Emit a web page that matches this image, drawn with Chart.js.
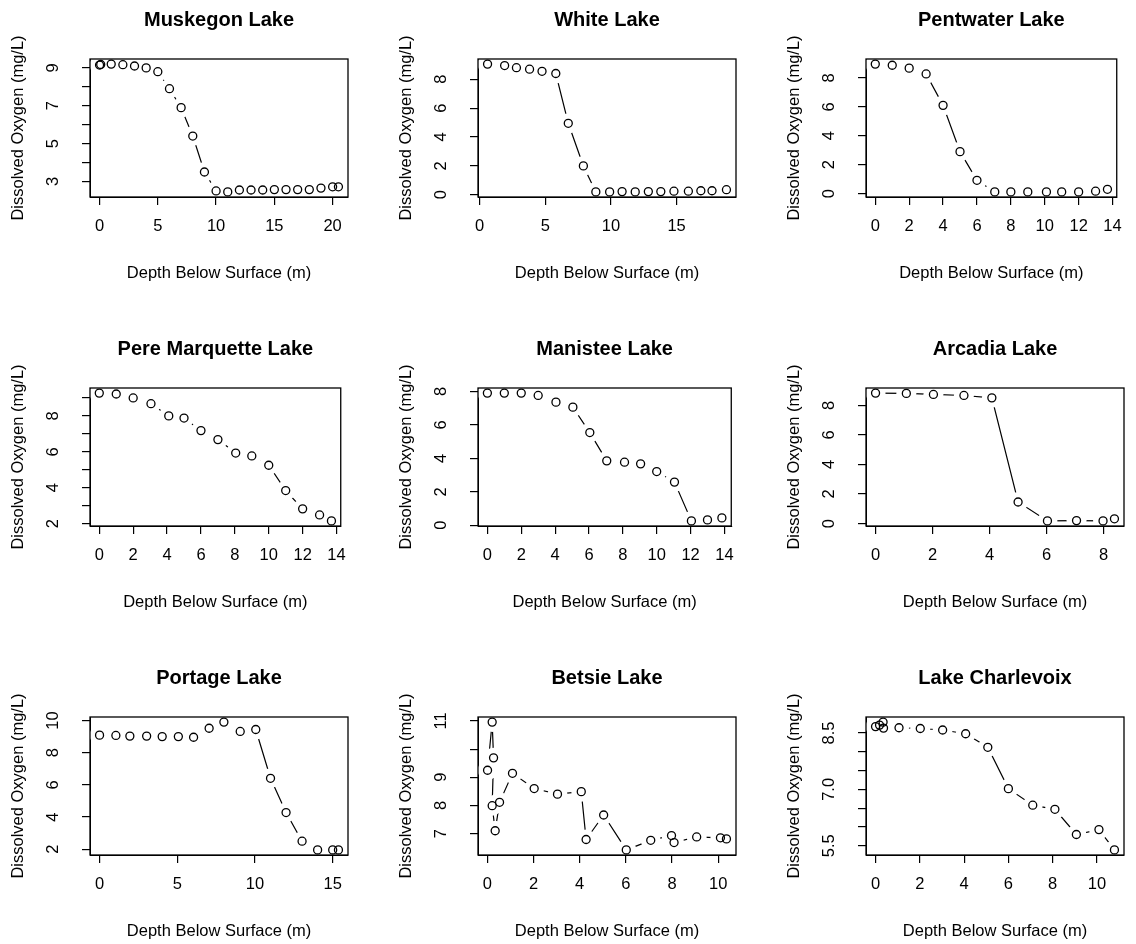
<!DOCTYPE html>
<html>
<head>
<meta charset="utf-8">
<title>Dissolved oxygen profiles</title>
<script src="https://cdn.jsdelivr.net/npm/chart.js@4"></script>
<style>
  html, body { margin: 0; padding: 0; background: #fff; overflow: hidden; }
  #grid { position: relative; width: 1136px; height: 944px; }
  #grid canvas { position: absolute; }
</style>
</head>
<body>
<div id="grid"></div>
<script>
const lakeNames = ['Muskegon Lake', 'White Lake', 'Pentwater Lake',
                   'Pere Marquette Lake', 'Manistee Lake', 'Arcadia Lake',
                   'Portage Lake', 'Betsie Lake', 'Lake Charlevoix'];
const xTitle = 'Depth Below Surface (m)';
const yTitle = 'Dissolved Oxygen (mg/L)';

// Muskegon Lake
const muskegonDepth = [0, 0.1, 1, 2, 3, 4, 5, 6, 7, 8, 9, 10, 11, 12, 13, 14, 15, 16, 17, 18, 19, 20, 20.5];
const muskegonDO = [9.15, 9.18, 9.2, 9.17, 9.1, 9.0, 8.8, 7.9, 6.9, 5.4, 3.5, 2.5, 2.45, 2.55, 2.55, 2.55, 2.57, 2.57, 2.57, 2.57, 2.65, 2.72, 2.72];
const muskegonXTicks = [0, 5, 10, 15, 20];
const muskegonYTicks = [3, 4, 5, 6, 7, 8, 9];
const muskegonYLabels = ['3', '5', '7', '9'];

// White Lake
const whiteDepth = [0.6, 1.9, 2.8, 3.8, 4.75, 5.8, 6.75, 7.9, 8.85, 9.9, 10.85, 11.85, 12.85, 13.8, 14.8, 15.9, 16.85, 17.7, 18.8];
const whiteDO = [9.05, 8.95, 8.8, 8.7, 8.55, 8.4, 4.95, 2.0, 0.2, 0.2, 0.22, 0.2, 0.22, 0.22, 0.25, 0.25, 0.28, 0.28, 0.35];
const whiteXTicks = [0, 5, 10, 15];
const whiteYTicks = [0, 2, 4, 6, 8];
const whiteYLabels = ['0', '2', '4', '6', '8'];

// Pentwater Lake
const pentwaterDepth = [0, 1, 2, 3, 4, 5, 6, 7.05, 8, 9, 10.1, 11, 12, 13, 13.7];
const pentwaterDO = [8.95, 8.87, 8.67, 8.27, 6.1, 2.9, 0.92, 0.12, 0.12, 0.12, 0.12, 0.12, 0.12, 0.17, 0.3];
const pentwaterXTicks = [0, 2, 4, 6, 8, 10, 12, 14];
const pentwaterYTicks = [0, 2, 4, 6, 8];
const pentwaterYLabels = ['0', '2', '4', '6', '8'];

// Pere Marquette Lake
const pereMarquetteDepth = [0, 1, 2, 3.05, 4.1, 5, 6, 7, 8.05, 9, 10, 11, 12, 13, 13.7];
const pereMarquetteDO = [9.27, 9.22, 9.0, 8.68, 8.0, 7.88, 7.18, 6.68, 5.93, 5.77, 5.25, 3.84, 2.82, 2.48, 2.15];
const pereMarquetteXTicks = [0, 2, 4, 6, 8, 10, 12, 14];
const pereMarquetteYTicks = [2, 3, 4, 5, 6, 7, 8, 9];
const pereMarquetteYLabels = ['2', '4', '6', '8'];

// Manistee Lake
const manisteeDepth = [0, 1, 2, 3, 4.05, 5.05, 6.05, 7.05, 8.1, 9.05, 10, 11.05, 12.05, 13, 13.85];
const manisteeDO = [7.9, 7.9, 7.9, 7.76, 7.36, 7.06, 5.54, 3.85, 3.77, 3.67, 3.21, 2.58, 0.26, 0.32, 0.44];
const manisteeXTicks = [0, 2, 4, 6, 8, 10, 12, 14];
const manisteeYTicks = [0, 2, 4, 6, 8];
const manisteeYLabels = ['0', '2', '4', '6', '8'];

// Arcadia Lake
const arcadiaDepth = [0, 1.08, 2.03, 3.1, 4.08, 5, 6.03, 7.05, 7.98, 8.38];
const arcadiaDO = [8.83, 8.81, 8.74, 8.67, 8.51, 1.46, 0.18, 0.2, 0.18, 0.32];
const arcadiaXTicks = [0, 2, 4, 6, 8];
const arcadiaYTicks = [0, 2, 4, 6, 8];
const arcadiaYLabels = ['0', '2', '4', '6', '8'];

// Portage Lake
const portageDepth = [0, 1.05, 1.95, 3.03, 4.03, 5.07, 6.05, 7.05, 8, 9.05, 10.05, 11, 12, 13.03, 14.03, 15, 15.37];
const portageDO = [9.09, 9.07, 9.03, 9.03, 9.0, 9.0, 8.96, 9.52, 9.9, 9.32, 9.44, 6.41, 4.28, 2.5, 1.96, 1.96, 1.96];
const portageXTicks = [0, 5, 10, 15];
const portageYTicks = [2, 4, 6, 8, 10];
const portageYLabels = ['2', '4', '6', '8', '10'];

// Betsie Lake
const betsieDepth = [0.01, 0.21, 0.27, 0.21, 0.34, 0.53, 1.09, 2.03, 3.04, 4.07, 4.28, 5.04, 6.02, 7.08, 7.98, 8.09, 9.07, 10.1, 10.36];
const betsieDO = [9.25, 10.96, 9.69, 7.99, 7.1, 8.11, 9.14, 8.6, 8.4, 8.49, 6.79, 7.66, 6.42, 6.76, 6.93, 6.68, 6.88, 6.85, 6.81];
const betsieXTicks = [0, 2, 4, 6, 8, 10];
const betsieYTicks = [7, 8, 9, 10, 11];
const betsieYLabels = ['7', '8', '9', '11'];

// Lake Charlevoix
const charlevoixDepth = [0, 0.18, 0.34, 0.36, 1.06, 2.02, 3.03, 4.07, 5.07, 6.0, 7.1, 8.1, 9.07, 10.09, 10.79];
const charlevoixDO = [8.67, 8.71, 8.79, 8.63, 8.64, 8.62, 8.58, 8.48, 8.12, 7.02, 6.58, 6.47, 5.8, 5.93, 5.39];
const charlevoixXTicks = [0, 2, 4, 6, 8, 10];
const charlevoixYTicks = [5.5, 6, 6.5, 7, 7.5, 8, 8.5];
const charlevoixYLabels = ['5.5', '7.0', '8.5'];

const panels = [
    { x: muskegonDepth, y: muskegonDO, xt: muskegonXTicks, yt: muskegonYTicks, yl: muskegonYLabels },
    { x: whiteDepth, y: whiteDO, xt: whiteXTicks, yt: whiteYTicks, yl: whiteYLabels },
    { x: pentwaterDepth, y: pentwaterDO, xt: pentwaterXTicks, yt: pentwaterYTicks, yl: pentwaterYLabels },
    { x: pereMarquetteDepth, y: pereMarquetteDO, xt: pereMarquetteXTicks, yt: pereMarquetteYTicks, yl: pereMarquetteYLabels },
    { x: manisteeDepth, y: manisteeDO, xt: manisteeXTicks, yt: manisteeYTicks, yl: manisteeYLabels },
    { x: arcadiaDepth, y: arcadiaDO, xt: arcadiaXTicks, yt: arcadiaYTicks, yl: arcadiaYLabels },
    { x: portageDepth, y: portageDO, xt: portageXTicks, yt: portageYTicks, yl: portageYLabels },
    { x: betsieDepth, y: betsieDO, xt: betsieXTicks, yt: betsieYTicks, yl: betsieYLabels },
    { x: charlevoixDepth, y: charlevoixDO, xt: charlevoixXTicks, yt: charlevoixYTicks, yl: charlevoixYLabels },
];

const FONT = '"Liberation Sans", Arial, Helvetica, sans-serif';

// R-style axis range: data range stretched 4% each side
function rRange(vals) {
    const lo = Math.min(...vals), hi = Math.max(...vals);
    const d = (hi - lo) * 0.04;
    return [lo - d, hi + d];
}

// y tick labels are rotated like R's default las=0, so draw them here
const yTickText = {
    id: 'yTickText',
    afterDraw(chart, args, opts) {
        const { ctx } = chart;
        const scale = chart.scales.y;
        ctx.save();
        ctx.fillStyle = '#000';
        ctx.font = '16.5px ' + FONT;
        ctx.textAlign = 'center';
        ctx.textBaseline = 'middle';
        opts.labels.forEach(t => {
            const py = scale.getPixelForValue(parseFloat(t));
            ctx.save();
            ctx.translate(opts.x, py);
            ctx.rotate(-Math.PI / 2);
            ctx.fillText(t, 0, 0);
            ctx.restore();
        });
        ctx.restore();
    }
};

// box round the plot region
const plotBox = {
    id: 'plotBox',
    afterDatasetsDraw(chart) {
        const { ctx, chartArea: a } = chart;
        ctx.save();
        ctx.strokeStyle = '#000';
        ctx.lineWidth = 1.3;
        ctx.strokeRect(a.left, a.top, a.right - a.left, a.bottom - a.top);
        ctx.restore();
    }
};

const grid = document.getElementById('grid');

panels.forEach((p, i) => {
    const col = i % 3, row = Math.floor(i / 3);
    const canvas = document.createElement('canvas');
    canvas.width = 358;
    canvas.height = 286;
    canvas.style.left = (col * 388) + 'px';
    canvas.style.top = (row * 329) + 'px';
    grid.appendChild(canvas);

    const pts = p.x.map((v, k) => ({ x: v, y: p.y[k] }));
    const [xMin, xMax] = rRange(p.x);
    const [yMin, yMax] = rRange(p.y);

    new Chart(canvas.getContext('2d'), {
        type: 'scatter',
        data: {
            datasets: [{
                // open circles
                data: pts,
                order: 0,
                showLine: false,
                pointRadius: 4,
                pointBorderWidth: 1.3,
                pointBorderColor: '#000',
                pointBackgroundColor: 'rgba(0,0,0,0)',
                clip: false,
            }, {
                // joining segments, with white discs making the gaps of type="b"
                data: pts,
                order: 1,
                showLine: true,
                borderColor: '#000',
                borderWidth: 1.2,
                tension: 0,
                pointRadius: 10,
                pointBorderWidth: 0,
                pointBackgroundColor: '#fff',
            }],
        },
        options: {
            responsive: false,
            animation: false,
            events: [],
            layout: { padding: { left: 0, right: 9, top: 0, bottom: 0 } },
            plugins: {
                legend: { display: false },
                tooltip: { enabled: false },
                title: {
                    display: true,
                    text: lakeNames[i],
                    fullSize: false,
                    color: '#000',
                    font: { family: FONT, size: 20, weight: 'bold' },
                    padding: { top: 8, bottom: 27 },
                },
                yTickText: { labels: p.yl, x: 53 },
            },
            scales: {
                x: {
                    type: 'linear',
                    min: xMin,
                    max: xMax,
                    afterBuildTicks: s => { s.ticks = p.xt.map(v => ({ value: v })); },
                    afterFit: s => { s.height = 89; },
                    grid: { drawOnChartArea: false, drawTicks: true, tickLength: 8, color: '#000', lineWidth: 1.2 },
                    border: { display: true, color: '#000', width: 1 },
                    ticks: {
                        color: '#000', autoSkip: false, maxRotation: 0, minRotation: 0, padding: 12,
                        font: { family: FONT, size: 16.5 },
                    },
                    title: {
                        display: true, text: xTitle, color: '#000',
                        font: { family: FONT, size: 16.5 },
                        padding: { top: 0, bottom: 3 },
                    },
                },
                y: {
                    type: 'linear',
                    min: yMin,
                    max: yMax,
                    afterBuildTicks: s => { s.ticks = p.yt.map(v => ({ value: v })); },
                    afterFit: s => { s.width = 90; },
                    grid: { drawOnChartArea: false, drawTicks: true, tickLength: 8, color: '#000', lineWidth: 1.2 },
                    border: { display: true, color: '#000', width: 1 },
                    ticks: { display: false },
                    title: {
                        display: true, text: yTitle, color: '#000',
                        font: { family: FONT, size: 16.5 },
                        padding: { top: 8.6, bottom: 0 },
                    },
                },
            },
        },
        plugins: [yTickText, plotBox],
    });
});
</script>
</body>
</html>
